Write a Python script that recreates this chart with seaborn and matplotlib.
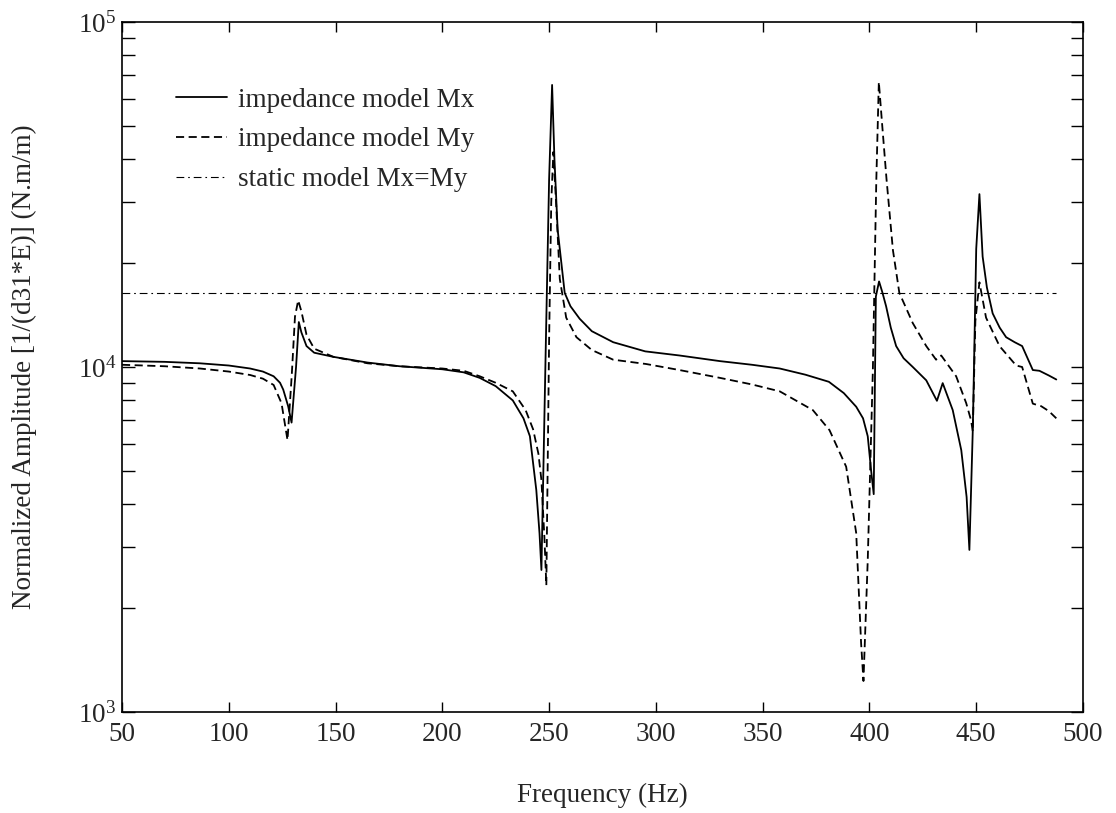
import numpy as np
import pandas as pd
import matplotlib
matplotlib.use("Agg")
import matplotlib.pyplot as plt
import matplotlib.ticker as mticker
import seaborn as sns

# ---- data ----
freq_mx = [50, 70, 86.5, 100, 110, 116, 121, 124, 125.5, 127.8, 129.4, 131.5, 132.8, 134, 136.4, 140, 149,
           165, 180, 200, 210, 217.5, 225, 233, 238, 241, 244, 245.5, 246.4, 248.5, 250,
           251.4, 252.5, 254, 257.3, 260, 264.3, 270, 280, 295, 311, 330, 345, 358, 370,
           381, 388, 393.8, 397, 399.2, 400.8, 402, 403, 404.5, 406, 407.8, 410, 412.5,
           416, 420.3, 426.6, 431.6, 434.3, 439, 443, 445.5, 446.8, 448.4, 450, 451.5, 453,
           455, 457.7, 461, 464, 468, 471.5, 476.5, 479.6, 484, 487.5]
amp_mx = [10400, 10350, 10250, 10100, 9900, 9700, 9400, 9000, 8600, 7700, 6900, 10000, 13500, 12600, 11500, 11000, 10700,
          10300, 10050, 9850, 9650, 9300, 8800, 8000, 7100, 6300, 4400, 3300, 2580, 12000, 35000,
          65700, 40000, 25000, 16400, 15000, 13800, 12700, 11800, 11100, 10800, 10400, 10150, 9900, 9500,
          9060, 8400, 7670, 7100, 6300, 5000, 4280, 16000, 17700, 16500, 15000, 13000, 11500,
          10600, 10000, 9150, 7980, 8980, 7500, 5740, 4200, 2950, 6600, 22000, 31700, 20900,
          17000, 14300, 13000, 12200, 11800, 11500, 9800, 9750, 9450, 9200]

freq_my = [50, 70, 86.5, 100, 110, 116, 121, 124.7, 127.5, 129.5, 131, 132.5, 134, 136.4, 140, 149,
           165, 180, 200, 210, 217.5, 225, 233, 239, 242.5, 245, 246.4, 247.8, 248.7, 250,
           251, 252, 253.5, 255, 258, 262.8, 270, 280, 295.5, 311, 330, 345, 358, 373.5,
           381.3, 389.1, 393.8, 396.1, 397.2, 399.2, 401.6, 403.2, 404.4, 406, 408, 411, 414,
           420.3, 426.6, 431.2, 433.6, 440.6, 445.3, 447.6, 448.4, 449.6, 451.5, 454.6, 460.9,
           468.7, 471.5, 476.5, 480.4, 484, 487.5]
amp_my = [10150, 10050, 9900, 9700, 9480, 9250, 8870, 7850, 6140, 9500, 14000, 15600, 14500, 12400, 11300, 10700,
          10250, 10050, 9900, 9750, 9400, 9000, 8500, 7500, 6600, 5600, 4700, 3200, 2330, 12000,
          30000, 42000, 28000, 18000, 13900, 12200, 11200, 10500, 10200, 9800, 9300, 8900, 8500, 7500,
          6560, 5140, 3300, 1580, 1230, 2750, 9800, 34500, 67000, 50000, 35000, 21800, 16400,
          13400, 11500, 10500, 10800, 9400, 7860, 7000, 6500, 13600, 17600, 13900, 11500,
          10100, 10000, 7830, 7700, 7450, 7100]

freq_static = [50, 487.5]
amp_static = [16400, 16400]

labels = ["impedance model Mx", "impedance model My", "static model Mx=My"]
x_ticks = [50, 100, 150, 200, 250, 300, 350, 400, 450, 500]

# ---- style ----
sns.set_theme(style="ticks")
plt.rcParams["font.family"] = ["Liberation Serif", "DejaVu Serif"]
plt.rcParams["mathtext.fontset"] = "custom"
plt.rcParams["mathtext.rm"] = "Liberation Serif"
plt.rcParams["mathtext.it"] = "Liberation Serif:italic"
plt.rcParams["mathtext.bf"] = "Liberation Serif:bold"
FS = 19.5

fig = plt.figure(figsize=(11.16, 8.13), dpi=100)
ax = fig.add_axes([122 / 1116, (813 - 712) / 813, 961 / 1116, 690 / 813])

df_mx = pd.DataFrame({"f": freq_mx, "a": amp_mx})
df_my = pd.DataFrame({"f": freq_my, "a": amp_my})
df_st = pd.DataFrame({"f": freq_static, "a": amp_static})

sns.lineplot(data=df_mx, x="f", y="a", ax=ax, color="black", lw=1.3,
             estimator=None, sort=False, label=labels[0])
sns.lineplot(data=df_my, x="f", y="a", ax=ax, color="black", lw=1.3,
             estimator=None, sort=False, label=labels[1], linestyle=(0, (4.5, 2.5)))
sns.lineplot(data=df_st, x="f", y="a", ax=ax, color="black", lw=0.8,
             estimator=None, sort=False, label=labels[2], linestyle=(0, (7, 3.5, 1.5, 3.5)))

ax.set_yscale("log")
ax.set_xlim(50, 500)
ax.set_ylim(1e3, 1e5)
ax.set_xticks(x_ticks)
ax.xaxis.set_minor_locator(mticker.NullLocator())
ax.yaxis.set_major_locator(mticker.LogLocator(base=10, numticks=10))
ax.yaxis.set_minor_locator(mticker.LogLocator(base=10, subs=np.arange(2, 10), numticks=20))
ax.yaxis.set_minor_formatter(mticker.NullFormatter())

ax.tick_params(axis="both", which="both", direction="in", top=True, right=True,
               color="black", width=1.0)
ax.tick_params(axis="x", which="major", length=7, pad=7, labelsize=FS)
ax.tick_params(axis="y", which="major", length=9, pad=4, labelsize=FS)
ax.tick_params(axis="y", which="minor", length=9)

for s in ax.spines.values():
    s.set_visible(True)
    s.set_color("black")
    s.set_linewidth(1.2)

ax.set_xlabel("Frequency (Hz)", fontsize=FS)
ax.set_ylabel("Normalized Amplitude [1/(d31*E)] (N.m/m)", fontsize=FS)
ax.xaxis.set_label_coords(0.5, -0.103)
ax.yaxis.set_label_coords(-0.088, 0.5)

ax.legend(loc="upper left", bbox_to_anchor=(0.056, 0.905), frameon=False,
          fontsize=FS, handlelength=1.9, handletextpad=0.4, labelspacing=0.55,
          borderaxespad=0, borderpad=0)

fig.savefig("out.png", dpi=100, facecolor="white")
